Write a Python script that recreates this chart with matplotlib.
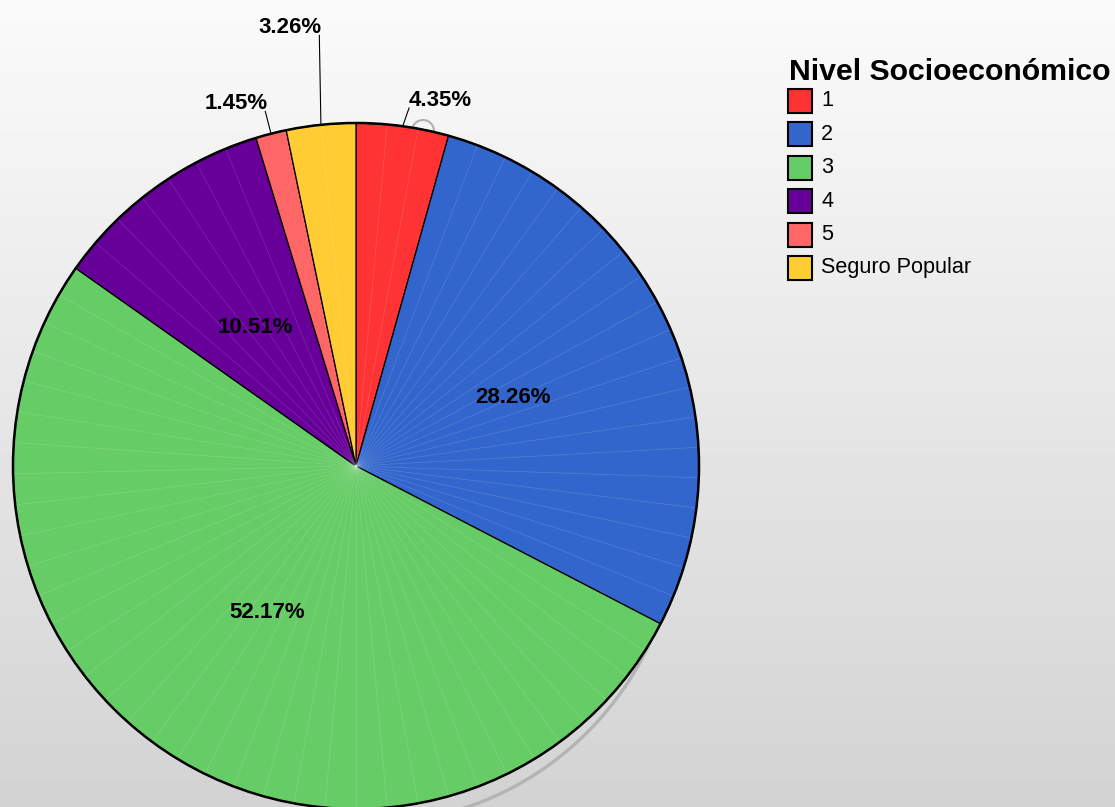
"""Pie chart of patients by socioeconomic level."""

import numpy as np
import matplotlib.pyplot as plt
from matplotlib.patches import Arc, Circle, Rectangle

plt.rcParams["font.family"] = ["Liberation Sans", "DejaVu Sans"]

# -- Data --
categories = ["1", "2", "3", "4", "5", "Seguro Popular"]
counts = [12, 78, 144, 29, 4, 9]
colors = ["#ff3333", "#3366cc", "#66cc66", "#660099", "#ff6666", "#ffcc33"]
legend_title = "Nivel Socioeconómico"

# -- Layout (pixel coordinates, y up) --
W, H = 1115, 807
CX, CY, R = 356, 341, 343
# small slices get outside labels: (end radius / R, angle nudge in deg, side)
outside = {0: (1.055, -0.6, "left"), 4: (1.067, 0.0, "right"),
           5: (1.26, -1.0, "right")}

fig = plt.figure(figsize=(W / 100, H / 100), dpi=100)

# background gradient
bg = fig.add_axes([0, 0, 1, 1], zorder=-5)
grad = np.linspace(0.982, 0.827, 256).reshape(-1, 1)
bg.imshow(grad, cmap="gray", vmin=0, vmax=1, aspect="auto",
          extent=[0, 1, 0, 1])
bg.axis("off")

ax = fig.add_axes([0, 0, 1, 1])
ax.patch.set_alpha(0)

# faint shadow ring behind the lower right of the pie
ax.add_patch(Arc((CX + 10, CY - 45), 2 * 313, 2 * 313, theta1=-92,
                 theta2=-22, color="#b4b4b4", lw=2.4, zorder=0.5))
ax.add_patch(Circle((CX + 67, CY + 335), 11, fill=False,
                    edgecolor="#b0b0b0", lw=1.5, zorder=0.5))

wedges, _ = ax.pie(
    counts, colors=colors, startangle=90, counterclock=False,
    center=(CX, CY), radius=R, frame=True,
    wedgeprops=dict(edgecolor="black", linewidth=0.9),
)
ax.add_patch(Circle((CX, CY), R, fill=False, edgecolor="black", lw=1.8,
                    zorder=3))

# thin lighter seams inside each slice
for w in wedges:
    t1, t2 = w.theta1, w.theta2
    n = max(1, int(round((t2 - t1) / 5.2)))
    for t in np.linspace(t1, t2, n + 1)[1:-1]:
        a = np.deg2rad(t)
        ax.plot([CX, CX + R * np.cos(a)], [CY, CY + R * np.sin(a)],
                color="white", alpha=0.16, lw=0.5, zorder=2)

total = sum(counts)
for i, (w, c) in enumerate(zip(wedges, counts)):
    pct = f"{100 * c / total:.2f}%"
    a = np.deg2rad((w.theta1 + w.theta2) / 2)
    if i in outside:
        r_end, nudge, side = outside[i]
        a1 = a + np.deg2rad(nudge)
        x0, y0 = CX + R * np.cos(a), CY + R * np.sin(a)
        x1, y1 = CX + R * r_end * np.cos(a1), CY + R * r_end * np.sin(a1)
        ax.plot([x0, x1], [y0, y1], color="black", lw=0.8, zorder=3)
        ax.text(x1 + (2 if side == "right" else 0), y1 - 3, pct,
                ha=side, va="bottom", fontsize=16, fontweight="bold",
                zorder=4)
    else:
        ax.text(CX + 0.5 * R * np.cos(a), CY + 0.5 * R * np.sin(a), pct,
                ha="center", va="center", fontsize=16, fontweight="bold",
                zorder=4)

ax.set_xlim(0, W)
ax.set_ylim(0, H)
ax.set_aspect("equal")
ax.axis("off")

# legend
ax.text(789, H - 72, legend_title, fontsize=21.8, fontweight="bold",
        ha="left", va="center")
for i, (lab, col) in enumerate(zip(categories, colors)):
    yc = H - (101 + 33.4 * i)
    ax.add_patch(Rectangle((788, yc - 12), 24, 24, facecolor=col,
                           edgecolor="black", lw=1.5, zorder=4))
    ax.text(821, yc, lab, fontsize=15.6, ha="left", va="center")

fig.savefig("out.png", dpi=100)
